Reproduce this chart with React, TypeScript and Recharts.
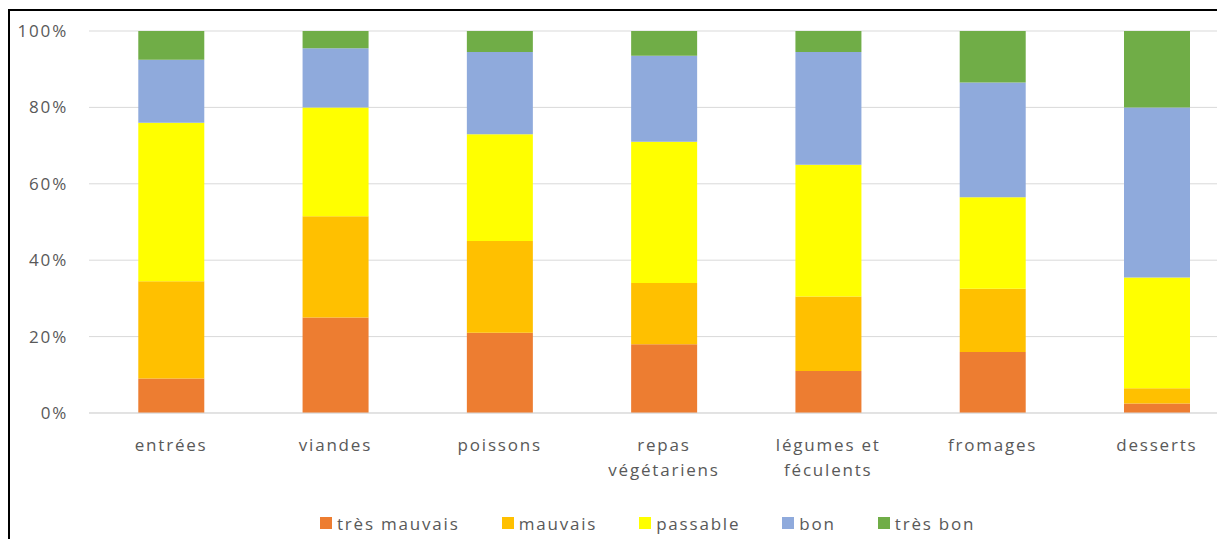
import React from 'react';
import { BarChart, Bar, XAxis, YAxis, CartesianGrid, Legend } from 'recharts';

const categories = ['entrées', 'viandes', 'poissons', 'repas végétariens', 'légumes et féculents', 'fromages', 'desserts'];
const categoryLines: string[][] = [
  ['entrées'],
  ['viandes'],
  ['poissons'],
  ['repas', 'végétariens'],
  ['légumes et', 'féculents'],
  ['fromages'],
  ['desserts'],
];
const tresMauvais = [9, 25, 21, 18, 11, 16, 2.5];
const mauvais = [25.5, 26.5, 24, 16, 19.5, 16.5, 4];
const passable = [41.5, 28.5, 28, 37, 34.5, 24, 29];
const bon = [16.5, 15.5, 21.5, 22.5, 29.5, 30, 44.5];
const tresBon = [7.5, 4.5, 5.5, 6.5, 5.5, 13.5, 20];
const yTicks = [0, 20, 40, 60, 80, 100];

const seriesNames = ['très mauvais', 'mauvais', 'passable', 'bon', 'très bon'];
const seriesKeys = ['tm', 'm', 'p', 'b', 'tb'];
const seriesColors = ['#ED7D31', '#FFC000', '#FFFF00', '#8FAADC', '#70AD47'];

const data = categories.map((c, i) => ({
  name: c,
  tm: tresMauvais[i],
  m: mauvais[i],
  p: passable[i],
  b: bon[i],
  tb: tresBon[i],
}));

const FONT = '"Open Sans", sans-serif';
const TEXT = '#595959';
const LS = 1.8;

const XTick = (props: any) => {
  const { x, y, index } = props;
  const lines = categoryLines[index] || [String(props.payload?.value)];
  return (
    <text x={x} y={y} textAnchor="middle" fill={TEXT} fontSize={17} fontFamily={FONT} letterSpacing={LS}>
      {lines.map((l, i) => (
        <tspan key={i} x={x} dy={i === 0 ? 38 : 25}>{l}</tspan>
      ))}
    </text>
  );
};

const LegendContent = () => (
  <div style={{ display: 'flex', height: 26, alignItems: 'center', paddingLeft: 320, fontFamily: FONT, fontSize: 17, color: TEXT, letterSpacing: LS }}>
    {seriesNames.map((n, i) => (
      <div key={n} style={{ display: 'flex', alignItems: 'center', marginRight: 42 }}>
        <span style={{ display: 'inline-block', width: 12, height: 12, background: seriesColors[i], marginRight: 5 }} />
        <span>{n}</span>
      </div>
    ))}
  </div>
);

export default function App() {
  return (
    <div style={{ position: 'fixed', left: 0, top: 0, width: 1217, height: 539, overflow: 'hidden', background: '#fff' }}>
      <div style={{ position: 'absolute', left: 8, top: 9, width: 1300, height: 600, borderLeft: '2px solid #000', borderTop: '2px solid #000', boxSizing: 'border-box' }} />
      <div style={{ position: 'absolute', left: 0, top: 0 }}>
        <BarChart
          width={1239}
          height={539}
          data={data}
          margin={{ top: 31, right: 0, bottom: 3, left: 0 }}
          barCategoryGap="30%"
        >
          <CartesianGrid vertical={false} stroke="#d9d9d9" strokeWidth={1} />
          <XAxis
            dataKey="name"
            axisLine={{ stroke: '#d9d9d9' }}
            tickLine={false}
            tickSize={0}
            tickMargin={0}
            height={97}
            interval={0}
            tick={<XTick />}
          />
          <YAxis
            width={89}
            domain={[0, 100]}
            ticks={yTicks}
            axisLine={false}
            tickLine={false}
            tickSize={0}
            tickMargin={21}
            tickFormatter={(v: number) => `${v}%`}
            tick={{ fill: TEXT, fontSize: 17, fontFamily: FONT, letterSpacing: LS }}
          />
          <Legend verticalAlign="bottom" content={<LegendContent />} />
          {seriesKeys.map((k, i) => (
            <Bar key={k} dataKey={k} name={seriesNames[i]} stackId="a" fill={seriesColors[i]} isAnimationActive={false} />
          ))}
        </BarChart>
      </div>
    </div>
  );
}
